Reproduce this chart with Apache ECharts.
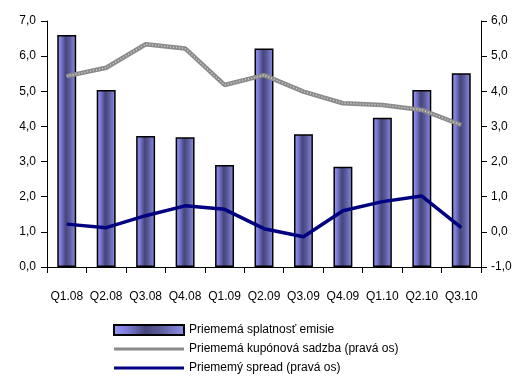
<!DOCTYPE html>
<html>
<head>
<meta charset="utf-8">
<script src="https://cdn.jsdelivr.net/npm/echarts@6/dist/echarts.min.js"></script>
<style>
  html, body { margin: 0; padding: 0; background: #fff; }
  #chart { width: 520px; height: 383px; }
</style>
</head>
<body>
<div id="chart"></div>
<script>
// quarters on the x axis
const quarters = ["Q1.08", "Q2.08", "Q3.08", "Q4.08", "Q1.09", "Q2.09", "Q3.09", "Q4.09", "Q1.10", "Q2.10", "Q3.10"]

// left axis: average maturity of issues (bars)
const maturity = [6.6, 5.04, 3.73, 3.69, 2.9, 6.22, 3.78, 2.85, 4.25, 5.04, 5.51]
// right axis: average coupon rate and average spread
const coupon = [4.43, 4.67, 5.34, 5.22, 4.18, 4.46, 3.99, 3.66, 3.61, 3.47, 3.04]
const spread = [0.22, 0.12, 0.46, 0.74, 0.64, 0.09, -0.14, 0.6, 0.86, 1.02, 0.12]

const names = [
  "Priememá splatnosť emisie",
  "Priememá kupónová sadzba (pravá os)",
  "Priememý spread (pravá os)"
]

const font = "Liberation Sans, Arial, sans-serif"
const fmt = (v) => v.toFixed(1).replace(".", ",")

const chart = echarts.init(document.getElementById("chart"), null, { renderer: "canvas" })

const barFill = {
  type: "linear", x: 0, y: 0, x2: 1, y2: 0,
  colorStops: [
    { offset: 0, color: "#9a9af5" },
    { offset: 0.2, color: "#7c7cd8" },
    { offset: 0.45, color: "#45457a" },
    { offset: 0.65, color: "#5a5a9a" },
    { offset: 1, color: "#9090ee" }
  ]
}

const axisLine = { show: true, lineStyle: { color: "#000", width: 1 } }
const axisTick = { show: true, length: 6, lineStyle: { color: "#000" } }
const axisLabel = { color: "#000", fontFamily: font, fontSize: 12, formatter: fmt }

// flat bar used as legend icon for the two lines
const lineIcon = "path://M0,0H70V3H0Z"

chart.setOption({
  animation: false,
  backgroundColor: "#fff",
  grid: { left: 47, right: 39, top: 21, bottom: 116, containLabel: false },
  legend: {
    orient: "vertical",
    left: 113,
    top: 324,
    padding: 0,
    itemWidth: 70,
    itemHeight: 10,
    itemGap: 7,
    textStyle: { color: "#000", fontFamily: font, fontSize: 12 },
    data: [
      { name: names[0], icon: "rect" },
      { name: names[1], icon: lineIcon },
      { name: names[2], icon: lineIcon }
    ]
  },
  xAxis: {
    type: "category",
    data: quarters,
    axisLine,
    axisTick: { show: true, length: 6, alignWithLabel: false, lineStyle: { color: "#000" } },
    axisLabel: { color: "#000", fontFamily: font, fontSize: 12, margin: 24, interval: 0 },
    splitLine: { show: false }
  },
  yAxis: [
    {
      type: "value", min: 0, max: 7, interval: 1,
      axisLine, axisTick, axisLabel: { ...axisLabel, margin: 11 },
      splitLine: { show: false }
    },
    {
      type: "value", min: -1, max: 6, interval: 1, position: "right",
      axisLine, axisTick, axisLabel: { ...axisLabel, margin: 10 },
      splitLine: { show: false }
    }
  ],
  series: [
    {
      name: names[0],
      type: "bar",
      data: maturity,
      barWidth: "48%",
      itemStyle: { color: barFill, borderColor: "#000", borderWidth: 1.5 }
    },
    {
      name: names[1],
      type: "line",
      yAxisIndex: 1,
      data: coupon,
      symbol: "none",
      lineStyle: { color: "#8a8a8a", width: 4.5 },
      itemStyle: { color: "#8a8a8a" },
      z: 3
    },
    {
      // light hatching drawn over the coupon line
      type: "line",
      yAxisIndex: 1,
      data: coupon,
      symbol: "none",
      silent: true,
      lineStyle: { color: "#d8d8d8", width: 1.5, type: [1, 2] },
      z: 4
    },
    {
      name: names[2],
      type: "line",
      yAxisIndex: 1,
      data: spread,
      symbol: "none",
      lineStyle: { color: "#000080", width: 3.5 },
      itemStyle: { color: "#000080" },
      z: 5
    }
  ]
})
</script>
</body>
</html>
